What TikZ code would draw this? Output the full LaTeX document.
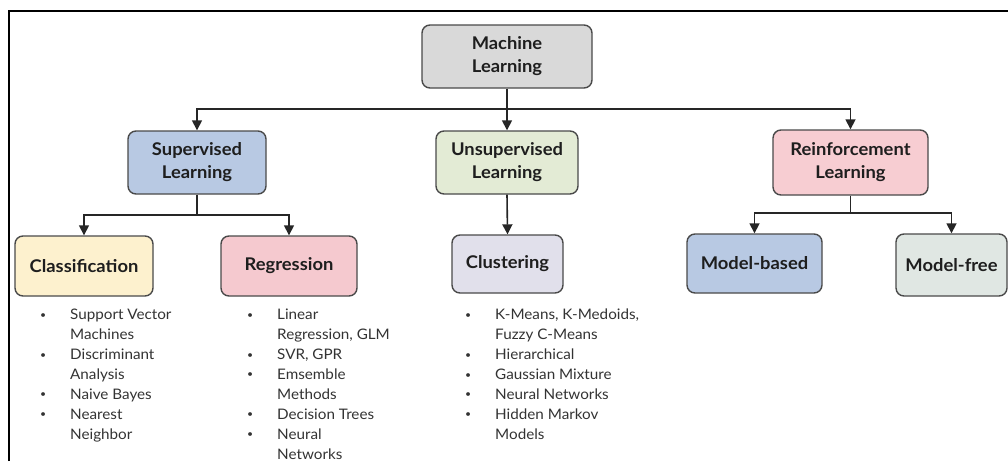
\documentclass[tikz,border=0pt]{standalone}
\usepackage{fontspec}
\setmainfont{Lato}[FakeStretch=1.05]
\usetikzlibrary{arrows.meta}
\definecolor{cml}{HTML}{D9D9D9}
\definecolor{csup}{HTML}{B8C9E3}
\definecolor{cuns}{HTML}{E3EBD5}
\definecolor{crl}{HTML}{F7CDD2}
\definecolor{ccls}{HTML}{FDF1CE}
\definecolor{creg}{HTML}{F5C9CF}
\definecolor{cclu}{HTML}{E1E0EB}
\definecolor{cmb}{HTML}{B8C9E3}
\definecolor{cmf}{HTML}{E0E7E3}
\definecolor{cborder}{HTML}{4A4A4A}
\definecolor{ctext}{HTML}{1E1E1E}
\definecolor{clist}{HTML}{333333}
\tikzset{
  box/.style={draw=cborder, line width=1.4pt, rounded corners=8pt, align=center,
    font=\fontsize{17.5}{23}\selectfont\bfseries, text=ctext, inner sep=0pt},
  arr/.style={line width=1.6pt, draw=black!85, -{Triangle[width=10pt,length=10pt]}},
  conn/.style={line width=1.6pt, draw=black!85},
  blist/.style={anchor=north west, align=left, inner sep=0pt, text=clist,
    font=\fontsize{14.5}{19.9}\selectfont},
}
\newcommand{\bl}{\makebox[30pt][l]{\raisebox{1.5pt}{\fontsize{10}{10}\selectfont\textbullet}}}
\newcommand{\cn}{\hspace*{30pt}}
\begin{document}
\begin{tikzpicture}[x=1pt,y=-1pt]
\useasboundingbox (0,0) rectangle (1008,461);
\fill[white] (0,0) rectangle (1008,461);
\draw[line width=2pt] (9,461) -- (9,11) -- (1008,11);

\node[box, fill=cml, minimum width=170pt, minimum height=63pt] (ml) at (507,56.5) {Machine\\Learning};
\node[box, fill=csup, minimum width=138pt, minimum height=63pt] (sup) at (197,162.5) {Supervised\\Learning};
\node[box, fill=cuns, minimum width=142pt, minimum height=63pt] (uns) at (507,162.5) {Unsupervised\\Learning};
\node[box, fill=crl, minimum width=155pt, minimum height=65pt] (rl) at (850.5,162.5) {Reinforcement\\Learning};
\node[box, fill=ccls, minimum width=138pt, minimum height=60pt] (cls) at (84,266) {Classification};
\node[box, fill=creg, minimum width=136pt, minimum height=60pt] (reg) at (289,266) {Regression};
\node[box, fill=cclu, minimum width=111pt, minimum height=58pt] (clu) at (507.5,264) {Clustering};
\node[box, fill=cmb, minimum width=135pt, minimum height=59pt] (mb) at (754.5,263.5) {Model-based};
\node[box, fill=cmf, minimum width=111pt, minimum height=62pt] (mf) at (951.5,265) {Model-free};

\coordinate (b1) at (507,109);
\coordinate (b2) at (197,215);
\coordinate (b3) at (850.5,213);
\draw[conn] (ml.south) -- (b1);
\draw[arr] (b1) -| (sup.north);
\draw[arr] (b1) -| (rl.north);
\draw[arr] (b1) -- (uns.north);
\draw[conn] (sup.south) -- (b2);
\draw[arr] (b2) -| (cls.north);
\draw[arr] (b2) -| (reg.north);
\draw[arr] (uns.south) -- (clu.north);
\draw[conn] (rl.south) -- (b3);
\draw[arr] (b3) -| (mb.north);
\draw[arr] (b3) -| (mf.north);

\node[blist] (lcls) at (40,309) {\bl Support Vector\\\cn Machines\\\bl Discriminant\\\cn Analysis\\\bl Naive Bayes\\\bl Nearest\\\cn Neighbor};
\node[blist] (lreg) at (247,309) {\bl Linear\\\cn Regression, GLM\\\bl SVR, GPR\\\bl Emsemble\\\cn Methods\\\bl Decision Trees\\\bl Neural\\\cn Networks};
\node[blist] (lclu) at (465,309) {\bl K-Means, K-Medoids,\\\cn Fuzzy C-Means\\\bl Hierarchical\\\bl Gaussian Mixture\\\bl Neural Networks\\\bl Hidden Markov\\\cn Models};
\end{tikzpicture}
\end{document}
